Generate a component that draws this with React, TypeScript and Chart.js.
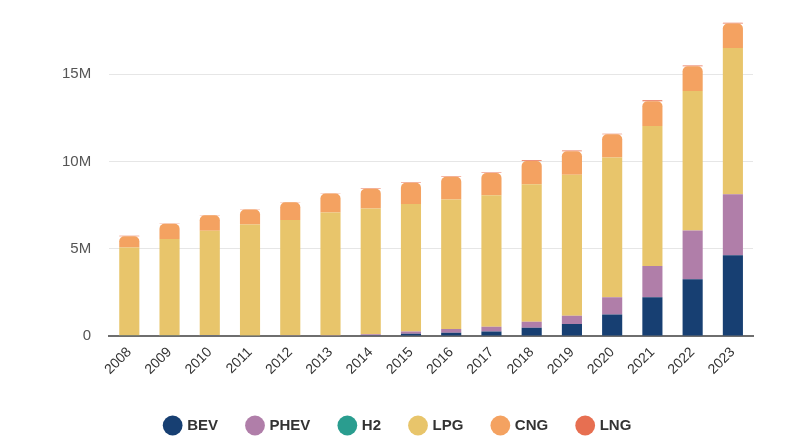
import { useEffect, useRef } from "react"
import { Chart, registerables } from "chart.js"

Chart.register(...registerables)

// Vehicle stock by fuel type, millions
const years = ["2008", "2009", "2010", "2011", "2012", "2013", "2014", "2015", "2016", "2017", "2018", "2019", "2020", "2021", "2022", "2023"]
const bev = [0.005, 0.007, 0.01, 0.015, 0.02, 0.03, 0.05, 0.13, 0.19, 0.27, 0.48, 0.69, 1.24, 2.22, 3.26, 4.64]
const phev = [0.001, 0.002, 0.003, 0.005, 0.01, 0.02, 0.05, 0.13, 0.21, 0.26, 0.34, 0.47, 0.98, 1.8, 2.79, 3.49]
const h2 = [0, 0, 0, 0, 0, 0, 0, 0, 0.001, 0.001, 0.001, 0.002, 0.002, 0.003, 0.003, 0.004]
const lpg = [5.07, 5.56, 6.02, 6.37, 6.63, 7.03, 7.21, 7.31, 7.42, 7.54, 7.88, 8.09, 8.01, 8.02, 7.99, 8.37]
const cng = [0.65, 0.87, 0.89, 0.86, 1.01, 1.09, 1.14, 1.22, 1.31, 1.27, 1.33, 1.34, 1.33, 1.42, 1.42, 1.41]
const lng = [0.02, 0.02, 0.02, 0.02, 0.02, 0.02, 0.02, 0.03, 0.03, 0.03, 0.04, 0.04, 0.04, 0.05, 0.05, 0.05]
const yTicks = [0, 5, 10, 15]

const FONT = "'Liberation Sans', Arial, Helvetica, sans-serif"

const toUnits = (arr: number[]) => arr.map((v) => v * 1e6)
const topRadius = { topLeft: 5, topRight: 5, bottomLeft: 0, bottomRight: 0 }

export default function App() {
  const chartRef = useRef<HTMLCanvasElement>(null)
  const chartInstance = useRef<Chart | null>(null)

  useEffect(() => {
    document.body.style.margin = "0"
    if (!chartRef.current) return
    if (chartInstance.current) chartInstance.current.destroy()

    const ctx = chartRef.current.getContext("2d")
    if (!ctx) return

    chartInstance.current = new Chart(ctx, {
      type: "bar",
      data: {
        labels: years,
        datasets: [
          { label: "BEV", data: toUnits(bev), backgroundColor: "#173f72" },
          { label: "PHEV", data: toUnits(phev), backgroundColor: "#b07ea9" },
          { label: "H2", data: toUnits(h2), backgroundColor: "#2a9d8f" },
          { label: "LPG", data: toUnits(lpg), backgroundColor: "#e8c56b" },
          { label: "CNG", data: toUnits(cng), backgroundColor: "#f4a261", borderRadius: topRadius, borderSkipped: false },
          { label: "LNG", data: toUnits(lng), backgroundColor: "#e76f51", borderRadius: topRadius, borderSkipped: false },
        ],
      },
      options: {
        responsive: true,
        maintainAspectRatio: false,
        animation: false,
        datasets: {
          bar: { barPercentage: 0.5, categoryPercentage: 1 },
        },
        layout: {
          padding: { left: 44, right: 47, top: 22, bottom: 2 },
        },
        plugins: {
          legend: {
            position: "bottom",
            labels: {
              usePointStyle: true,
              pointStyle: "circle",
              boxWidth: 14,
              boxHeight: 14,
              padding: 30,
              color: "#333",
              font: { family: FONT, size: 15, weight: "bold" },
            },
          },
          tooltip: { enabled: false },
        },
        scales: {
          x: {
            stacked: true,
            grid: { display: false },
            border: { color: "#6e6e6e", width: 2 },
            afterFit: (scale) => {
              // leave a bit more room under the rotated year labels
              scale.height += 10
              scale.paddingTop = 0
            },
            ticks: {
              color: "#333",
              font: { family: FONT, size: 14 },
              maxRotation: 45,
              minRotation: 45,
              padding: 0,
            },
          },
          y: {
            stacked: true,
            min: 0,
            max: 18e6,
            border: { display: false },
            grid: { color: "#e6e6e6", drawTicks: false },
            afterBuildTicks: (axis) => {
              axis.ticks = yTicks.map((v) => ({ value: v * 1e6 }))
            },
            afterFit: (scale) => {
              scale.paddingTop = 0
            },
            ticks: {
              padding: 18,
              color: "#555",
              font: { family: FONT, size: 15 },
              callback: (value) => {
                const v = Number(value)
                return v === 0 ? "0" : `${v / 1e6}M`
              },
            },
          },
        },
      },
    })

    return () => {
      if (chartInstance.current) {
        chartInstance.current.destroy()
        chartInstance.current = null
      }
    }
  }, [])

  return (
    <div style={{ width: 800, height: 445, position: "relative" }}>
      <canvas ref={chartRef} aria-label="Vehicle fleet by fuel type"></canvas>
    </div>
  )
}
